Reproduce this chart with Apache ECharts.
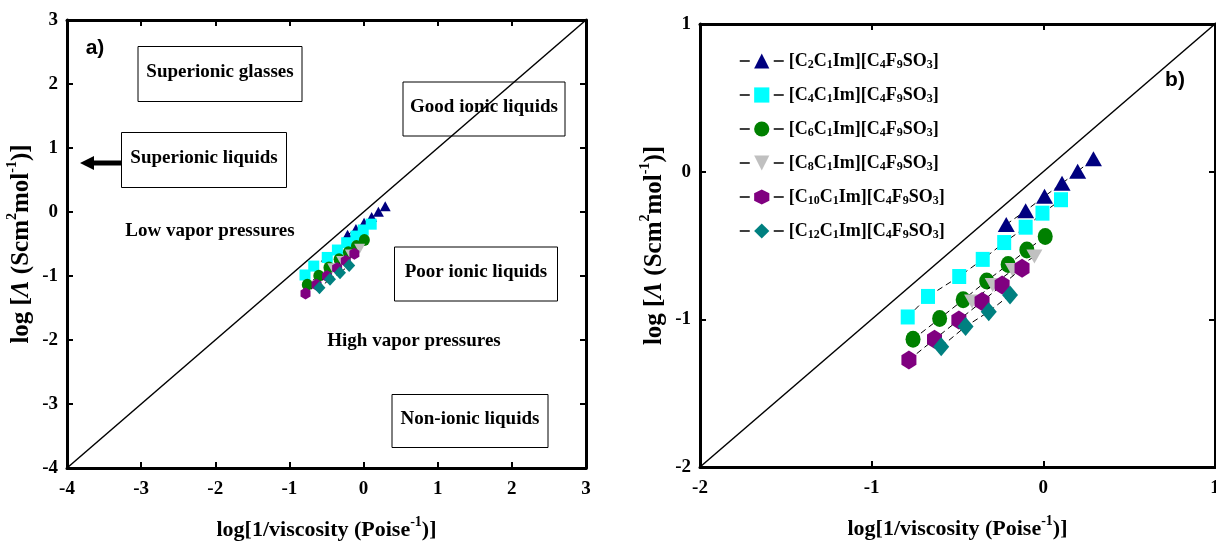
<!DOCTYPE html>
<html>
<head>
<meta charset="utf-8">
<script src="https://cdn.jsdelivr.net/npm/echarts@6/dist/echarts.min.js"></script>
<style>
html, body { margin: 0; padding: 0; background: #fff; }
#main { width: 1216px; height: 543px; }
</style>
</head>
<body>
<div id="main"></div>
<script>
var myChart = echarts.init(document.getElementById('main'));

// series names (subscripts added in the legend formatter)
var names = ['C2', 'C4', 'C6', 'C8', 'C10', 'C12'];
var colors = ['#00007f', '#00ffff', '#008000', '#c0c0c0', '#800080', '#008080'];

// log[1/viscosity] and log[conductivity] read from panel b)
var c2X = [-0.216, -0.103, 0.007, 0.109, 0.200, 0.292];
var c2Y = [-0.357, -0.265, -0.167, -0.079, 0.002, 0.088];
var c4X = [-0.790, -0.672, -0.490, -0.353, -0.228, -0.103, -0.005, 0.103];
var c4Y = [-0.984, -0.845, -0.710, -0.594, -0.480, -0.376, -0.281, -0.190];
var c6X = [-0.759, -0.604, -0.467, -0.330, -0.205, -0.096, 0.011];
var c6Y = [-1.135, -0.995, -0.868, -0.740, -0.629, -0.531, -0.439];
var c8X = [-0.415, -0.295, -0.178, -0.052];
var c8Y = [-0.880, -0.767, -0.666, -0.575];
var c10X = [-0.783, -0.634, -0.492, -0.357, -0.240, -0.124];
var c10Y = [-1.275, -1.135, -1.004, -0.880, -0.767, -0.654];
var c12X = [-0.595, -0.453, -0.318, -0.194];
var c12Y = [-1.185, -1.049, -0.948, -0.835];

var xs = [c2X, c4X, c6X, c8X, c10X, c12X];
var ys = [c2Y, c4Y, c6Y, c8Y, c10Y, c12Y];

// axis ranges of both panels
var rangeA = [-4, 3];
var rangeB = [-2, 1];

var hexagon = 'path://M0,-10 L8.66,-5 L8.66,5 L0,10 L-8.66,5 L-8.66,-5 Z';
var downTri = 'path://M0,0 L20,0 L10,17 Z';
var symbols = ['triangle', 'rect', 'circle', downTri, hexagon, 'diamond'];
var sizesB = [[17, 15], [14, 15], [15, 17], [16, 14], [15, 19], [16, 19]];
var sizesA = [[11, 10], [11, 11], [11, 12], [11, 10], [10, 12], [12, 13]];

var FONT = 'Liberation Serif';

function pairs(x, y) {
    var res = [];
    for (var i = 0; i < x.length; i++) {
        res.push([x[i], y[i]]);
    }
    return res;
}

var labelOf = function (name) {
    var n = name.slice(1);
    return '[C{s|' + n + '}C{s|1}Im][C{s|4}F{s|9}SO{s|3}]';
};

function nameStyle(size) {
    return {
        fontFamily: FONT, fontWeight: 'bold', fontSize: size, color: '#000', lineHeight: size + 8,
        rich: {
            sup: {fontFamily: FONT, fontWeight: 'bold', fontSize: 14, color: '#000', verticalAlign: 'top', lineHeight: 14},
            it: {fontFamily: FONT, fontWeight: 'bold', fontStyle: 'italic', fontSize: size, color: '#000'}
        }
    };
}
var X_NAME = 'log[1/viscosity (Poise{sup|-1})]';
var Y_NAME = 'log [{it|Λ} (Scm{sup|2}mol{sup|-1})]';

var xAxes = [], yAxes = [];
function addAxes(g, r) {
    var line = {onZero: false, lineStyle: {color: '#000', width: 3}};
    var tick = {inside: true, length: 6, lineStyle: {color: '#000', width: 2}};
    var lab = {fontFamily: FONT, fontWeight: 'bold', fontSize: 19, color: '#000'};
    xAxes.push({
        gridIndex: g, type: 'value', min: r[0], max: r[1], interval: 1, position: 'bottom',
        axisLine: line, axisTick: tick, splitLine: {show: false},
        axisLabel: Object.assign({margin: 12}, lab),
        name: X_NAME, nameLocation: 'middle', nameGap: 47, nameTextStyle: nameStyle(22)
    });
    xAxes.push({
        gridIndex: g, type: 'value', min: r[0], max: r[1], interval: 1, position: 'top',
        axisLine: line, axisTick: tick, splitLine: {show: false}, axisLabel: {show: false}
    });
    yAxes.push({
        gridIndex: g, type: 'value', min: r[0], max: r[1], interval: 1, position: 'left',
        axisLine: line, axisTick: tick, splitLine: {show: false},
        axisLabel: Object.assign({margin: 9}, lab),
        name: Y_NAME, nameLocation: 'middle', nameGap: 27, nameRotate: 90, nameTextStyle: nameStyle(25)
    });
    yAxes.push({
        gridIndex: g, type: 'value', min: r[0], max: r[1], interval: 1, position: 'right',
        axisLine: line, axisTick: tick, splitLine: {show: false}, axisLabel: {show: false}
    });
}
addAxes(0, rangeA);
addAxes(1, rangeB);

var series = [];
// 1:1 reference lines
series.push({
    type: 'line', xAxisIndex: 0, yAxisIndex: 0, silent: true, symbol: 'none',
    data: [[rangeA[0], rangeA[0]], [rangeA[1], rangeA[1]]],
    lineStyle: {color: '#000', width: 1.5}, z: 1
});
series.push({
    type: 'line', xAxisIndex: 2, yAxisIndex: 2, silent: true, symbol: 'none',
    data: [[rangeB[0], rangeB[0]], [rangeB[1], rangeB[1]]],
    lineStyle: {color: '#000', width: 1.5}, z: 1
});
for (var i = 0; i < names.length; i++) {
    series.push({
        name: names[i], type: 'line', xAxisIndex: 0, yAxisIndex: 0,
        data: pairs(xs[i], ys[i]), symbol: symbols[i], symbolSize: sizesA[i],
        lineStyle: {color: '#000', width: 1, type: [4, 3]},
        itemStyle: {color: colors[i], borderWidth: 0}, z: 2 + i
    });
    series.push({
        name: names[i], type: 'line', xAxisIndex: 2, yAxisIndex: 2,
        data: pairs(xs[i], ys[i]), symbol: symbols[i], symbolSize: sizesB[i],
        lineStyle: {color: '#000', width: 1, type: [6, 4]},
        itemStyle: {color: colors[i], borderWidth: 0}, z: 2 + i
    });
}

function box(cx, cy, w, h, text) {
    return {
        type: 'group', z: 50, children: [
            {type: 'rect', shape: {x: cx - w / 2, y: cy - h / 2, width: w, height: h},
             style: {fill: '#fff', stroke: '#000', lineWidth: 1}},
            {type: 'text', x: cx, y: cy - 2,
             style: {text: text, fontFamily: FONT, fontWeight: 'bold', fontSize: 19, fill: '#000',
                     textAlign: 'center', textVerticalAlign: 'middle'}}
        ]
    };
}
function label(cx, cy, text, font, size) {
    return {type: 'text', x: cx, y: cy, z: 50,
        style: {text: text, fontFamily: font || FONT, fontWeight: 'bold', fontSize: size || 19, fill: '#000',
                textAlign: 'center', textVerticalAlign: 'middle'}};
}

option = {
    animation: false,
    backgroundColor: '#fff',
    grid: [
        {left: 67, top: 20, width: 519, height: 448, outerBoundsMode: 'none', containLabel: false},
        {left: 700, top: 24, width: 515, height: 443, outerBoundsMode: 'none', containLabel: false}
    ],
    xAxis: xAxes,
    yAxis: yAxes,
    legend: {
        data: names,
        orient: 'vertical',
        left: 734, top: 46,
        itemWidth: 44, itemHeight: 19, itemGap: 14,
        formatter: labelOf,
        lineStyle: {type: [10, 24], width: 1.5, color: '#000'},
        textStyle: {
            fontFamily: FONT, fontWeight: 'bold', fontSize: 18, color: '#000', lineHeight: 20,
            rich: {s: {fontFamily: FONT, fontWeight: 'bold', fontSize: 12, color: '#000', verticalAlign: 'bottom', lineHeight: 8}}
        }
    },
    graphic: [
        box(220, 74, 164, 55, 'Superionic glasses'),
        box(484, 109, 162, 54, 'Good ionic liquids'),
        box(204, 160, 165, 55, 'Superionic liquids'),
        box(476, 274, 163, 54, 'Poor ionic liquids'),
        box(470, 421, 156, 53, 'Non-ionic liquids'),
        label(210, 231, 'Low vapor pressures'),
        label(414, 341, 'High vapor pressures'),
        label(95, 48, 'a)', 'Liberation Sans', 21),
        label(1175, 80, 'b)', 'Liberation Sans', 21),
        {type: 'polygon', z: 50,
         shape: {points: [[121, 160.5], [94, 160.5], [94, 156], [80, 163], [94, 170], [94, 165.5], [121, 165.5]]},
         style: {fill: '#000'}}
    ],
    series: series
};

myChart.setOption(option);
</script>
</body>
</html>
